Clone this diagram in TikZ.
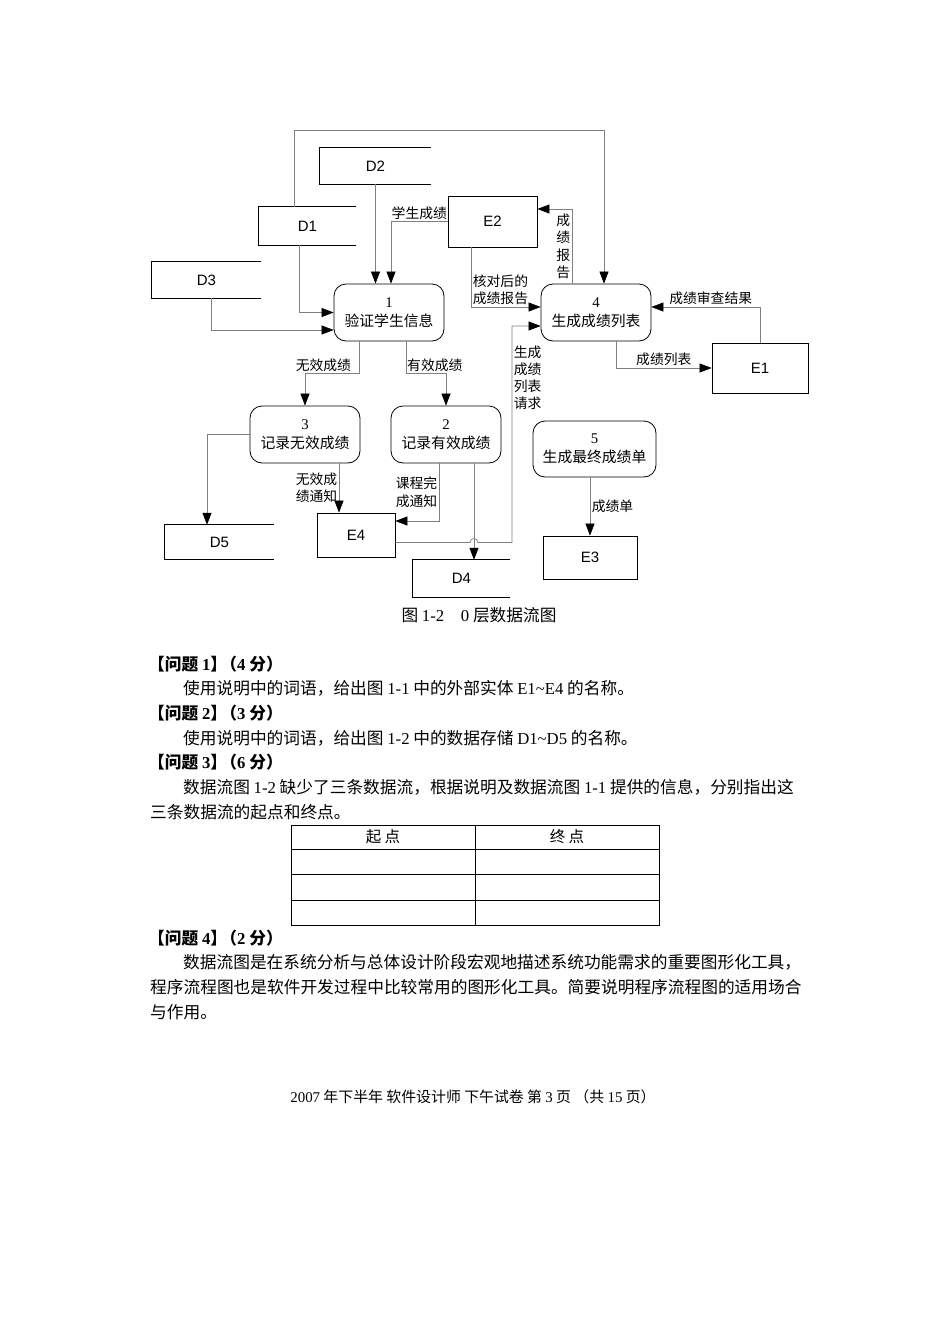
\documentclass[tikz,border=0pt]{standalone}
\usepackage{fontspec}
\setmainfont{Noto Sans CJK SC}
\newfontfamily\tnr{Liberation Serif}
\newfontfamily\ars{Liberation Sans}
\usetikzlibrary{arrows.meta}

\tikzset{
  box/.style={line width=0.8pt},
  proc/.style={draw, box, rounded corners=12pt, minimum width=110pt, minimum height=57pt,
    align=center, inner sep=1pt, font=\fontsize{14.8}{19}\selectfont},
  ent/.style={draw, box, inner sep=0pt, font=\ars\fontsize{15}{17}\selectfont},
  store/.style={inner sep=0pt, font=\ars\fontsize{15}{17}\selectfont},
  flow/.style={draw=gray, line width=0.7pt, -{Triangle[length=12pt,width=9pt,color=black]}},
  lab/.style={inner sep=1.5pt, align=center, font=\fontsize{13.8}{17.2}\selectfont},
  txt/.style={anchor=west, inner sep=0pt, font=\fontsize{16.7}{20}\selectfont},
}

\begin{document}
\begin{tikzpicture}[x=1pt,y=-1pt]
	\path[fill=white] (0,0) rectangle (950,1344);
	% data stores (open on the right)
	\node[store, minimum width=111pt, minimum height=36pt] (D2) at (375.5,166) {D2};
	\node[store, minimum width=97pt, minimum height=38pt] (D1) at (307.5,226) {D1};
	\node[store, minimum width=109pt, minimum height=36pt] (D3) at (206.5,280) {D3};
	\node[store, minimum width=109pt, minimum height=34pt] (D5) at (219.5,542) {D5};
	\node[store, minimum width=97pt, minimum height=37pt] (D4) at (461.5,578.5) {D4};
	\foreach \d in {D1,D2,D3,D4,D5}
		\draw[box] (\d.north east) -- (\d.north west) -- (\d.south west) -- (\d.south east);
	% external entities
	\node[ent, minimum width=89pt, minimum height=51pt] (E2) at (492.5,221.5) {E2};
	\node[ent, minimum width=96pt, minimum height=50pt] (E1) at (760,368) {E1};
	\node[ent, minimum width=78pt, minimum height=44pt] (E4) at (356,535) {E4};
	\node[ent, minimum width=94pt, minimum height=43pt] (E3) at (590,557.5) {E3};
	% processes
	\node[proc] (p1) at (389,312.5) {{\tnr 1}\\验证学生信息};
	\node[proc] (p4) at (596,312.5) {{\tnr 4}\\生成成绩列表};
	\node[proc] (p3) at (305,434.5) {{\tnr 3}\\记录无效成绩};
	\node[proc] (p2) at (446,434.5) {{\tnr 2}\\记录有效成绩};
	\node[proc, minimum width=123pt, minimum height=56pt] (p5) at (594.5,449) {{\tnr 5}\\生成最终成绩单};
	% data flows
	\draw[flow] ([xshift=-13.5pt]D1.north) -- ++(0,-76) -| ([xshift=8pt]p4.north);
	\draw[flow] (D2.south) -- (D2.south |- p1.north);
	\draw[flow] (E2.west) -| node[lab, pos=0.25, above] {学生成绩} ([xshift=2pt]p1.north);
	\draw[flow] ([xshift=-8.5pt]D1.south) |- (p1.west);
	\draw[flow] ([xshift=4.5pt]D3.south) |- ([yshift=-17.5pt]p1.west);
	\draw[flow] ([xshift=-21.5pt]E2.south) |- node[lab, pos=0.5, above right, align=left] {核对后的\\成绩报告} ([yshift=5.5pt]p4.west);
	\draw[flow] ([xshift=-24pt]p4.north) |- node[lab, pos=0.25, left] {成\\绩\\报\\告} ([yshift=12.5pt]E2.east);
	\draw[flow] (E1.north) |- node[lab, pos=0.727, above] {成绩审查结果} ([yshift=5.5pt]p4.east);
	\draw[flow] ([xshift=20pt]p4.south) |- node[lab, pos=0.75, above] {成绩列表} (E1.west);
	\draw[flow] ([xshift=-30pt]p1.south) -- ++(0,32) -| node[lab, pos=0.33, above] {无效成绩} (p3.north);
	\draw[flow] ([xshift=17pt]p1.south) -- ++(0,32) -| node[lab, pos=0.36, above] {有效成绩} (p2.north);
	\draw[flow] (p3.west) -| ([xshift=-12.5pt]D5.north);
	\draw[flow] ([xshift=34pt]p3.south) -- node[lab, left] {无效成\\绩通知} ([xshift=34pt]p3.south |- E4.north);
	\draw[flow] ([xshift=-7pt]p2.south) |- node[lab, pos=0.25, left] {课程完\\成通知} ([yshift=14pt]E4.east);
	\draw[flow] ([xshift=28pt]p2.south) -- ([xshift=28pt]p2.south |- D4.north);
	\coordinate (req) at ([yshift=-7.5pt]E4.east);
	\coordinate (hop) at ([xshift=28pt]p2.south |- req);
	\draw[flow] (req) -- ([xshift=-4pt]hop) to[bend left=90, looseness=1.7] ([xshift=4pt]hop) -- ++(34,0)
		|- node[lab, pos=0.38, right] {生成\\成绩\\列表\\请求} ([yshift=-13.5pt]p4.west);
	\draw[flow] (E3.north |- p5.south) -- node[lab, right] {成绩单} (E3.north);
	% caption
	\node[inner sep=0pt, font=\fontsize{16.7}{20}\selectfont] (cap) at (479,615) {图 {\tnr 1-2}　{\tnr 0} 层数据流图};
	% questions
	\node[txt] (q1) at (148,664) {\textbf{【问题 {\tnr 1}】\kern-0.4em（{\tnr 4} 分）}};
	\node[txt] (q1t) at (183,688) {使用说明中的词语，给出图 {\tnr 1-1} 中的外部实体 {\tnr E1\textasciitilde E4} 的名称。};
	\node[txt] (q2) at (148,713) {\textbf{【问题 {\tnr 2}】\kern-0.4em（{\tnr 3} 分）}};
	\node[txt] (q2t) at (183,738) {使用说明中的词语，给出图 {\tnr 1-2} 中的数据存储 {\tnr D1\textasciitilde D5} 的名称。};
	\node[txt] (q3) at (148,762) {\textbf{【问题 {\tnr 3}】\kern-0.4em（{\tnr 6} 分）}};
	\node[txt] (q3t) at (183,787) {数据流图 {\tnr 1-2} 缺少了三条数据流，根据说明及数据流图 {\tnr 1-1} 提供的信息，分别指出这};
	\node[txt] (q3u) at (150,812) {三条数据流的起点和终点。};
	% answer table
	\draw[box] (291,825) rectangle (659,925);
	\foreach \y in {849,874,900}
		\draw[box] (291,\y) -- (659,\y);
	\draw[box] (475,825) -- (475,925);
	\node[inner sep=0pt, font=\fontsize{15.5}{18}\selectfont] (from) at (383,837) {起\ 点};
	\node[inner sep=0pt, font=\fontsize{15.5}{18}\selectfont] (to) at (567,837) {终\ 点};
	\node[txt] (q4) at (148,938) {\textbf{【问题 {\tnr 4}】\kern-0.4em（{\tnr 2} 分）}};
	\node[txt] (q4t) at (183,962) {数据流图是在系统分析与总体设计阶段宏观地描述系统功能需求的重要图形化工具，};
	\node[txt] (q4u) at (150,987) {程序流程图也是软件开发过程中比较常用的图形化工具。简要说明程序流程图的适用场合};
	\node[txt] (q4v) at (150,1012) {与作用。};
	% footer
	\node[inner sep=0pt, font=\fontsize{14.9}{17}\selectfont] (foot) at (473,1097) {{\tnr 2007} 年下半年 软件设计师 下午试卷 第 {\tnr 3} 页 （共 {\tnr 15} 页）};
\end{tikzpicture}
\end{document}
